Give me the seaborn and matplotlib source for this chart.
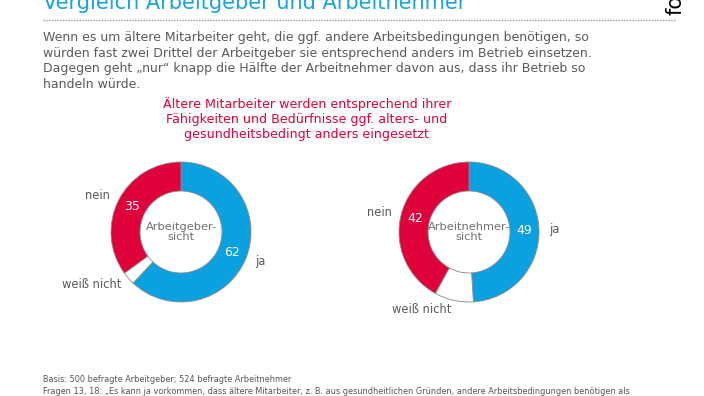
import matplotlib
matplotlib.use("Agg")
import matplotlib.pyplot as plt
import seaborn as sns

# data
categories = ["ja", "weiß nicht", "nein"]
arbeitgeber = [62, 3, 35]
arbeitnehmer = [49, 9, 42]
colors = ["#0BA0E0", "#FFFFFF", "#E0003A"]
centre_labels = ["Arbeitgeber-\nsicht", "Arbeitnehmer-\nsicht"]

title = "Vergleich Arbeitgeber und Arbeitnehmer"
intro = ("Wenn es um ältere Mitarbeiter geht, die ggf. andere Arbeitsbedingungen benötigen, so\n"
         "würden fast zwei Drittel der Arbeitgeber sie entsprechend anders im Betrieb einsetzen.\n"
         "Dagegen geht „nur“ knapp die Hälfte der Arbeitnehmer davon aus, dass ihr Betrieb so\n"
         "handeln würde.")
subtitle = ("Ältere Mitarbeiter werden entsprechend ihrer\n"
            "Fähigkeiten und Bedürfnisse ggf. alters- und\n"
            "gesundheitsbedingt anders eingesetzt")
foot1 = "Basis: 500 befragte Arbeitgeber; 524 befragte Arbeitnehmer"
foot2 = ("Fragen 13, 18: „Es kann ja vorkommen, dass ältere Mitarbeiter, z. B. aus gesundheitlichen "
         "Gründen, andere Arbeitsbedingungen benötigen als")

sns.set_theme(style="white")
plt.rcParams["font.family"] = ["DejaVu Sans"]

W, H = 704, 396
fig = plt.figure(figsize=(7.04, 3.96), dpi=100)
ax = fig.add_axes([0, 0, 1, 1])

grey = "#5a5a5a"

def pct(p):
    return f"{p:.0f}" if p >= 5 else ""

for vals, cx, centre in [(arbeitgeber, 181, centre_labels[0]), (arbeitnehmer, 469, centre_labels[1])]:
    wedges, texts, autotexts = ax.pie(
        vals, labels=categories, colors=colors, startangle=90, counterclock=False,
        center=(cx, H - 232), radius=70, frame=True,
        wedgeprops=dict(width=29, edgecolor="#8a8a8a", linewidth=0.6),
        labeldistance=1.14, pctdistance=0.79, autopct=pct,
        textprops=dict(fontsize=8.3, color=grey))
    # pie aligns labels on the absolute x, fix relative to the ring centre
    for t in texts:
        x, y = t.get_position()
        t.set_ha("left" if x > cx else "right")
    for t in autotexts:
        t.set_color("white")
        t.set_fontsize(9)
    ax.text(cx, H - 232, centre, ha="center", va="center", fontsize=8.2,
            color="#707070", linespacing=1.0)

ax.set_xlim(0, W)
ax.set_ylim(0, H)
ax.set_aspect("equal")
ax.axis("off")

# header
ax.text(43, H - 9, title, fontsize=15, color="#1AA3E0", va="baseline")
ax.text(676, H - 15, "forsa.", fontsize=15, color="black", rotation=90, ha="center", va="bottom")
ax.plot([43, 676], [H - 20, H - 20], color="#999999", lw=1.0, ls=(0, (1, 1)))

ax.text(43, H - 31, intro, fontsize=9.0, color=grey, va="top", linespacing=1.25)
ax.text(307, H - 97, subtitle, fontsize=9.1, color="#E0003A", va="top", ha="center",
        linespacing=1.18)

ax.text(43, H - 380, foot1, fontsize=5.85, color="#555555", va="center")
ax.text(43, H - 392, foot2, fontsize=5.85, color="#555555", va="center")

fig.savefig("out.png", dpi=100)
